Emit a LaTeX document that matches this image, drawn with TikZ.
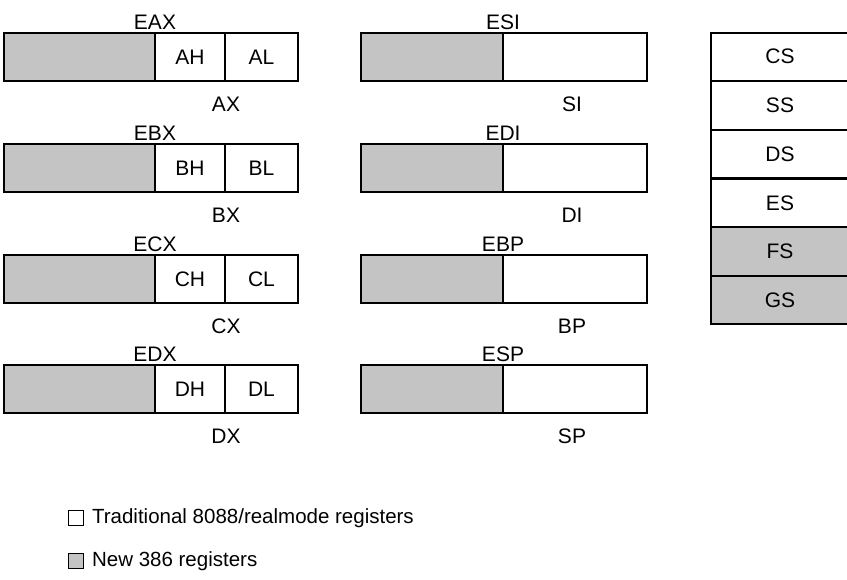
\documentclass[tikz,border=0pt]{standalone}
\usepackage{fontspec}
\setmainfont{Liberation Sans}
\usetikzlibrary{positioning}
\definecolor{NewGray}{HTML}{C4C4C4}

\begin{document}
\begin{tikzpicture}[x=1pt,y=-1pt,
  reg/.style={rectangle,draw,line width=1.2pt,minimum height=48pt,
              inner sep=0pt,font=\fontsize{21}{25}\selectfont},
  newreg/.style={reg,fill=NewGray},
  seg/.style={reg,minimum width=138pt,minimum height=47.5pt},
  lbl/.style={inner sep=0pt,font=\fontsize{21}{25}\selectfont},
  key/.style={rectangle,draw,line width=0.8pt,minimum size=15pt,inner sep=0pt},
  keytxt/.style={inner sep=0pt,anchor=west,font=\fontsize{20.5}{24}\selectfont}
]
  \useasboundingbox (0,0) rectangle (847,580);

  % general purpose registers
  \node[newreg,minimum width=151pt] (eaxhi) at (79.5,57) {};
  \node[reg,minimum width=70pt] (ah) at (190,57) {AH};
  \node[reg,minimum width=73pt] (al) at (261.5,57) {AL};
  \node[lbl] (eax) at (155,22) {EAX};
  \node[lbl] (ax) at (226,104) {AX};

  \node[newreg,minimum width=151pt] (ebxhi) at (79.5,168) {};
  \node[reg,minimum width=70pt] (bh) at (190,168) {BH};
  \node[reg,minimum width=73pt] (bl) at (261.5,168) {BL};
  \node[lbl] (ebx) at (155,133) {EBX};
  \node[lbl] (bx) at (226,215) {BX};

  \node[newreg,minimum width=151pt] (ecxhi) at (79.5,279) {};
  \node[reg,minimum width=70pt] (ch) at (190,279) {CH};
  \node[reg,minimum width=73pt] (cl) at (261.5,279) {CL};
  \node[lbl] (ecx) at (155,244) {ECX};
  \node[lbl] (cx) at (226,326) {CX};

  \node[newreg,minimum width=151pt] (edxhi) at (79.5,389) {};
  \node[reg,minimum width=70pt] (dh) at (190,389) {DH};
  \node[reg,minimum width=73pt] (dl) at (261.5,389) {DL};
  \node[lbl] (edx) at (155,354) {EDX};
  \node[lbl] (dx) at (226,436) {DX};

  % index and pointer registers
  \node[newreg,minimum width=142pt] (esihi) at (432,57) {};
  \node[reg,minimum width=144pt] (si) at (575,57) {};
  \node[lbl] (esi) at (503,22) {ESI};
  \node[lbl] (silbl) at (572,104) {SI};

  \node[newreg,minimum width=142pt] (edihi) at (432,168) {};
  \node[reg,minimum width=144pt] (di) at (575,168) {};
  \node[lbl] (edi) at (503,133) {EDI};
  \node[lbl] (dilbl) at (572,215) {DI};

  \node[newreg,minimum width=142pt] (ebphi) at (432,279) {};
  \node[reg,minimum width=144pt] (bp) at (575,279) {};
  \node[lbl] (ebp) at (503,244) {EBP};
  \node[lbl] (bplbl) at (572,326) {BP};

  \node[newreg,minimum width=142pt] (esphi) at (432,389) {};
  \node[reg,minimum width=144pt] (sp) at (575,389) {};
  \node[lbl] (esp) at (503,354) {ESP};
  \node[lbl] (splbl) at (572,436) {SP};

  % segment registers
  \node[seg] (cs) at (780,56.75) {CS};
  \node[seg,below=0pt of cs] (ss) {SS};
  \node[seg,below=0pt of ss] (ds) {DS};
  \node[seg,below=0pt of ds] (es) {ES};
  \node[seg,fill=NewGray,below=0pt of es] (fs) {FS};
  \node[seg,fill=NewGray,below=0pt of fs] (gs) {GS};

  % key
  \node[key] (keyold) at (76,518) {};
  \node[keytxt,right=8pt of keyold] (keyoldtxt) {Traditional 8088/realmode registers};
  \node[key,fill=NewGray] (keynew) at (76,561) {};
  \node[keytxt,right=8pt of keynew] (keynewtxt) {New 386 registers};
\end{tikzpicture}
\end{document}
